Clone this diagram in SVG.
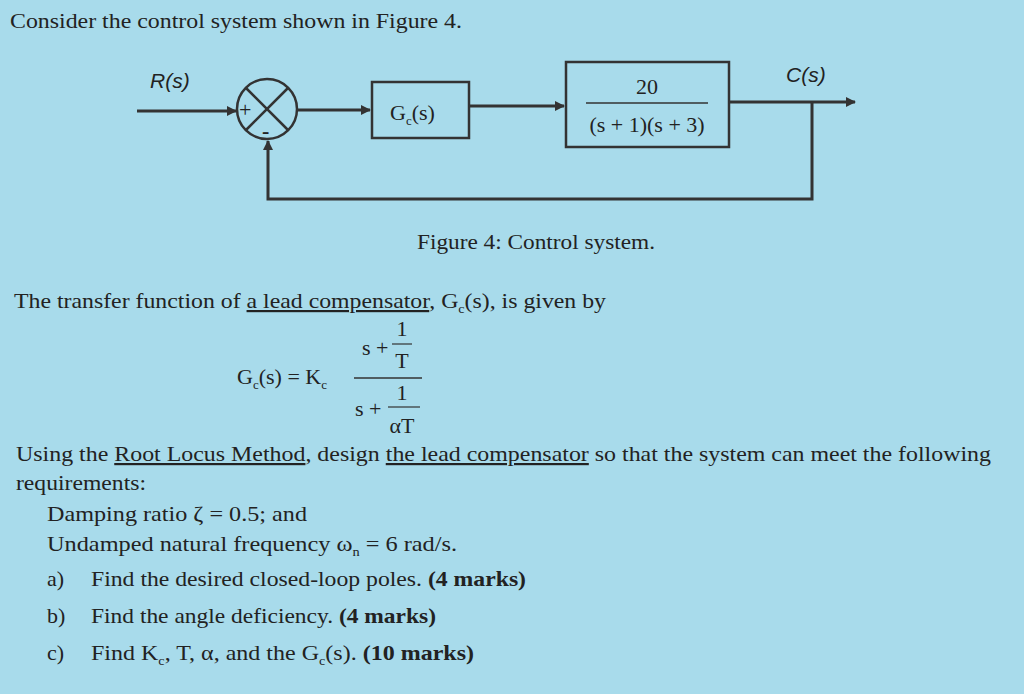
<svg xmlns="http://www.w3.org/2000/svg" width="1024" height="694" viewBox="0 0 1024 694">
<defs><style>
.t{font-family:"Liberation Serif",serif;font-size:22px;fill:#222}
.b{font-weight:bold}
.a{font-family:"Liberation Sans",sans-serif;font-size:21px;fill:#222;font-style:italic}
.ln{stroke:#333;stroke-width:3;fill:none}
.bx{stroke:#333;stroke-width:2.5;fill:none}
</style>
<marker id="ar" markerWidth="10" markerHeight="10" refX="9" refY="5" orient="auto" markerUnits="userSpaceOnUse"><path d="M0,0L10,5L0,10z" fill="#333"/></marker></defs>
<rect width="1024" height="694" fill="#a8dbeb"/>
<text class="t" x="10" y="28" textLength="452" lengthAdjust="spacingAndGlyphs">Consider the control system shown in Figure 4.</text>
<g id="sum"><circle cx="267" cy="109" r="30" class="bx"/><path d="M246,88L288,130M288,88L246,130" class="bx"/>
<text class="t" x="239" y="117" font-size="20">+</text><text class="t" x="262" y="138" font-weight="bold" font-size="22">-</text></g>
<g id="gc"><rect x="372" y="82" width="97" height="56" class="bx"/><text class="t" x="390" y="120">G<tspan font-size="13" dy="5">c</tspan><tspan dy="-5">(s)</tspan></text></g>
<g id="plant"><rect x="566" y="62" width="163" height="85" class="bx"/><text class="t" x="647" y="94" text-anchor="middle">20</text><line x1="586" y1="103" x2="708" y2="103" stroke="#333" stroke-width="1.5"/><text class="t" x="647" y="132" text-anchor="middle">(s + 1)(s + 3)</text></g>
<g id="connectors">
<path d="M137,111H236" class="ln" marker-end="url(#ar)"/>
<path d="M297,110H370" class="ln" marker-end="url(#ar)"/>
<path d="M469,106H564" class="ln" marker-end="url(#ar)"/>
<path d="M729,102H855" class="ln" marker-end="url(#ar)"/>
<path d="M812,102V199H268V141" class="ln" marker-end="url(#ar)"/>
</g>
<text class="a" x="150" y="88">R(s)</text>
<text class="a" x="786" y="82">C(s)</text>
<text class="t" x="417" y="249" textLength="238" lengthAdjust="spacingAndGlyphs">Figure 4: Control system.</text>
<text class="t" x="14" y="308" textLength="592" lengthAdjust="spacingAndGlyphs">The transfer function of <tspan text-decoration="underline">a lead compensator</tspan>, G<tspan font-size="13" dy="5">c</tspan><tspan dy="-5">(s), is given by</tspan></text>
<text class="t" x="237" y="384">G<tspan font-size="13" dy="5">c</tspan><tspan dy="-5">(s) = K</tspan><tspan font-size="13" dy="5">c</tspan></text>
<line x1="354" y1="378" x2="422" y2="378" stroke="#333" stroke-width="1.5"/>
<text class="t" x="362" y="355">s +</text><text class="t" x="402" y="336" text-anchor="middle">1</text><line x1="392" y1="344" x2="412" y2="344" stroke="#333" stroke-width="1.2"/><text class="t" x="402" y="368" text-anchor="middle">T</text>
<text class="t" x="355" y="416">s +</text><text class="t" x="402" y="400" text-anchor="middle">1</text><line x1="388" y1="407" x2="420" y2="407" stroke="#333" stroke-width="1.2"/><text class="t" x="402" y="433" text-anchor="middle">αT</text>
<text class="t" x="16" y="461" textLength="975" lengthAdjust="spacingAndGlyphs">Using the <tspan text-decoration="underline">Root Locus Method</tspan>, design <tspan text-decoration="underline">the lead compensator</tspan> so that the system can meet the following</text>
<text class="t" x="16" y="490" textLength="130" lengthAdjust="spacingAndGlyphs">requirements:</text>
<text class="t" x="47" y="521" textLength="260" lengthAdjust="spacingAndGlyphs">Damping ratio ζ = 0.5; and</text>
<text class="t" x="47" y="551" textLength="410" lengthAdjust="spacingAndGlyphs">Undamped natural frequency ω<tspan font-size="13" dy="5">n</tspan><tspan dy="-5"> = 6 rad/s.</tspan></text>
<text class="t" x="47" y="586">a)</text><text class="t" x="91" y="586" textLength="435" lengthAdjust="spacingAndGlyphs">Find the desired closed-loop poles. <tspan class="b">(4 marks)</tspan></text>
<text class="t" x="47" y="623">b)</text><text class="t" x="91" y="623" textLength="345" lengthAdjust="spacingAndGlyphs">Find the angle deficiency. <tspan class="b">(4 marks)</tspan></text>
<text class="t" x="47" y="660">c)</text><text class="t" x="91" y="660" textLength="383" lengthAdjust="spacingAndGlyphs">Find K<tspan font-size="13" dy="5">c</tspan><tspan dy="-5">, T, α, and the G</tspan><tspan font-size="13" dy="5">c</tspan><tspan dy="-5">(s). </tspan><tspan class="b">(10 marks)</tspan></text>
</svg>
